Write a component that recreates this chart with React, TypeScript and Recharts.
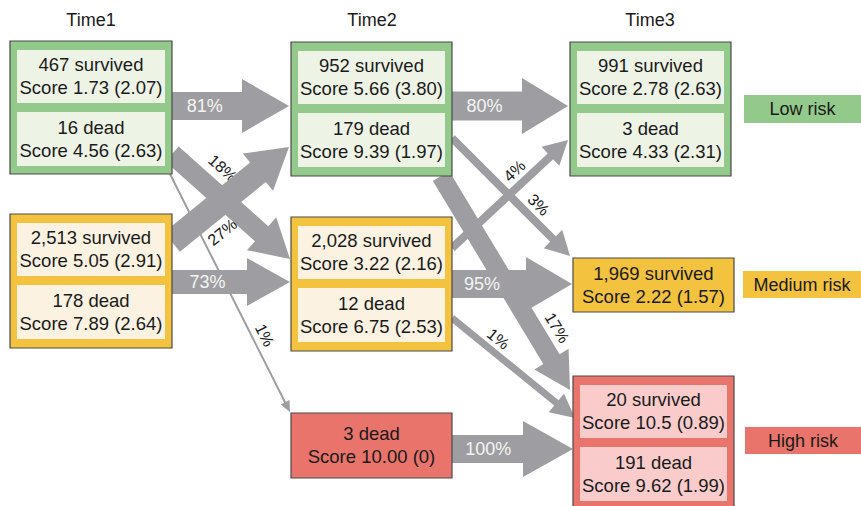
import React from 'react';
import { ScatterChart, Scatter, XAxis, YAxis, ReferenceArea, ReferenceLine } from 'recharts';

const W = 861;
const H = 506;
const FONT = '"Liberation Sans", Arial, sans-serif';

// values
const timeLabels = ['Time1', 'Time2', 'Time3'];
const riskLabels = ['Low risk', 'Medium risk', 'High risk'];

const time1Low = [
  { n: 467, status: 'survived', score: '1.73', sd: '2.07' },
  { n: 16, status: 'dead', score: '4.56', sd: '2.63' },
];
const time1Medium = [
  { n: 2513, status: 'survived', score: '5.05', sd: '2.91' },
  { n: 178, status: 'dead', score: '7.89', sd: '2.64' },
];
const time2Low = [
  { n: 952, status: 'survived', score: '5.66', sd: '3.80' },
  { n: 179, status: 'dead', score: '9.39', sd: '1.97' },
];
const time2Medium = [
  { n: 2028, status: 'survived', score: '3.22', sd: '2.16' },
  { n: 12, status: 'dead', score: '6.75', sd: '2.53' },
];
const time2High = [{ n: 3, status: 'dead', score: '10.00', sd: '0' }];
const time3Low = [
  { n: 991, status: 'survived', score: '2.78', sd: '2.63' },
  { n: 3, status: 'dead', score: '4.33', sd: '2.31' },
];
const time3Medium = [{ n: 1969, status: 'survived', score: '2.22', sd: '1.57' }];
const time3High = [
  { n: 20, status: 'survived', score: '10.5', sd: '0.89' },
  { n: 191, status: 'dead', score: '9.62', sd: '1.99' },
];

const flowSources = ['t1Low', 't1Low', 't1Low', 't1Medium', 't1Medium', 't2Low', 't2Low', 't2Low', 't2Medium', 't2Medium', 't2Medium', 't2High'];
const flowTargets = ['t2Low', 't2Medium', 't2High', 't2Low', 't2Medium', 't3Low', 't3Medium', 't3High', 't3Low', 't3Medium', 't3High', 't3High'];
const flowPercents = [81, 18, 1, 27, 73, 80, 3, 17, 4, 95, 1, 100];

const groups = [
  { key: 't1Low', time: 0, risk: 0, cells: time1Low },
  { key: 't1Medium', time: 0, risk: 1, cells: time1Medium },
  { key: 't2Low', time: 1, risk: 0, cells: time2Low },
  { key: 't2Medium', time: 1, risk: 1, cells: time2Medium },
  { key: 't2High', time: 1, risk: 2, cells: time2High },
  { key: 't3Low', time: 2, risk: 0, cells: time3Low },
  { key: 't3Medium', time: 2, risk: 1, cells: time3Medium },
  { key: 't3High', time: 2, risk: 2, cells: time3High },
];

// layout (diagram coordinates, 1 unit = 1 px)
const groupBoxes: Record<string, [number, number, number, number]> = {
  t1Low: [10, 172, 41, 174],
  t1Medium: [10, 172, 214, 348],
  t2Low: [291, 452, 42, 176],
  t2Medium: [291, 452, 217, 351],
  t2High: [291, 452, 413, 478],
  t3Low: [570, 731, 42, 176],
  t3Medium: [573, 734, 258, 312],
  t3High: [573, 734, 376, 514],
};
const titleX = [91, 372, 650];
const legendBoxes: [number, number, number, number][] = [
  [744, 861, 95, 123],
  [743, 861, 271, 298],
  [745, 861, 427, 454],
];
// x1, y1, x2, y2, shaft width, head half width, head length, label t, label offset, label inside
const arrowLayout = [
  [172, 106, 289, 106, 28, 27, 47, 0.28, 0, 1],
  [172, 154, 290, 259, 20, 22, 38, 0.3, -23, 0],
  [170, 174, 290, 412, 2, 5, 11, 0.7, -12, 0],
  [172, 242, 289, 147, 25, 24, 40, 0.3, 24, 0],
  [172, 282, 290, 282, 24, 24, 43, 0.3, 0, 1],
  [452, 106, 568, 106, 29, 28, 46, 0.28, 0, 1],
  [452, 138, 570, 256, 8, 13, 24, 0.65, -14, 0],
  [441, 176, 570, 390, 19, 20, 36, 0.76, -21, 0],
  [452, 248, 568, 140, 8, 13, 24, 0.62, -14, 0],
  [452, 284, 572, 284, 28, 27, 46, 0.25, 0, 1],
  [452, 318, 575, 418, 7, 12, 24, 0.31, -13, 0],
  [452, 449, 573, 449, 28, 28, 50, 0.3, 0, 1],
];

const riskOuter = ['#93c98a', '#f3c23e', '#e9746b'];
const riskInner = ['#edf3e5', '#fcf2e2', '#f9cccb'];
const ARROW = '#9e9ea2';

const cellLines = (c: { n: number; status: string; score: string; sd: string }) => [
  `${c.n.toLocaleString('en-US')} ${c.status}`,
  `Score ${c.score} (${c.sd})`,
];

const textLabel = (lines: string[], size: number, gap: number) => (props: any) => {
  const vb = props.viewBox;
  const cx = vb.x + vb.width / 2;
  const cy = vb.y + vb.height / 2;
  return (
    <text textAnchor="middle" fontSize={size} fill="#1a1a1a" fontFamily={FONT}>
      {lines.map((l, i) => (
        <tspan key={i} x={cx} y={cy + (i - (lines.length - 1) / 2) * gap} dy="0.35em">
          {l}
        </tspan>
      ))}
    </text>
  );
};

const arrowShape = (i: number) => (p: any) => {
  const [, , , , w, hh, hl, t, off, inside] = arrowLayout[i];
  const { x1, y1, x2, y2 } = p;
  const dx = x2 - x1;
  const dy = y2 - y1;
  const len = Math.hypot(dx, dy);
  const ux = dx / len;
  const uy = dy / len;
  const nx = -uy;
  const ny = ux;
  const bx = x2 - ux * hl;
  const by = y2 - uy * hl;
  const pts = [
    [x1 + (nx * w) / 2, y1 + (ny * w) / 2],
    [bx + (nx * w) / 2, by + (ny * w) / 2],
    [bx + nx * hh, by + ny * hh],
    [x2, y2],
    [bx - nx * hh, by - ny * hh],
    [bx - (nx * w) / 2, by - (ny * w) / 2],
    [x1 - (nx * w) / 2, y1 - (ny * w) / 2],
  ];
  const lx = x1 + dx * t + nx * off;
  const ly = y1 + dy * t + ny * off;
  const angle = (Math.atan2(dy, dx) * 180) / Math.PI;
  return (
    <g>
      <polygon points={pts.map((q) => q.join(',')).join(' ')} fill={ARROW} />
      <text
        x={lx}
        y={ly}
        dy="0.35em"
        textAnchor="middle"
        fontSize={inside ? 18 : 16}
        fill={inside ? '#f4f4f4' : '#1a1a1a'}
        fontFamily={FONT}
        transform={`rotate(${angle} ${lx} ${ly})`}
      >
        {flowPercents[i]}%
      </text>
    </g>
  );
};

const titlePoints = timeLabels.map((label, i) => ({ x: titleX[i], y: 20, label }));

const TitleShape = (p: any) => (
  <text x={p.cx} y={p.cy} dy="0.35em" textAnchor="middle" fontSize={18} fill="#1a1a1a" fontFamily={FONT}>
    {p.payload.label}
  </text>
);

export default function App() {
  return (
    <div style={{ position: 'absolute', left: 0, top: 0, width: W, height: H, background: '#fff' }}>
      <ScatterChart width={W} height={H} margin={{ top: 0, right: 0, bottom: 0, left: 0 }}>
        <XAxis type="number" dataKey="x" domain={[0, W]} ticks={[0, W]} allowDataOverflow hide />
        <YAxis type="number" dataKey="y" domain={[0, H]} ticks={[0, H]} allowDataOverflow reversed hide />

        {flowPercents.map((pct, i) => {
          const a = arrowLayout[i];
          return (
            <ReferenceLine
              key={`flow-${flowSources[i]}-${flowTargets[i]}-${pct}`}
              segment={[{ x: a[0], y: a[1] }, { x: a[2], y: a[3] }]}
              ifOverflow="visible"
              shape={arrowShape(i)}
              zIndex={50}
            />
          );
        })}

        {groups.map((g) => {
          const [x1, x2, y1, y2] = groupBoxes[g.key];
          const single = g.cells.length === 1;
          return (
            <ReferenceArea
              key={g.key}
              x1={x1}
              x2={x2}
              y1={y1}
              y2={y2}
              fill={riskOuter[g.risk]}
              fillOpacity={1}
              stroke="#4a4a4a"
              strokeWidth={1.2}
              ifOverflow="visible"
              zIndex={100}
              label={single ? textLabel(cellLines(g.cells[0]), 18.5, 23) : undefined}
            />
          );
        })}

        {groups
          .filter((g) => g.cells.length > 1)
          .flatMap((g) => {
            const [x1, x2, y1] = groupBoxes[g.key];
            return g.cells.map((c, j) => (
              <ReferenceArea
                key={`${g.key}-${j}`}
                x1={x1 + 7}
                x2={x2 - 7}
                y1={y1 + (j === 0 ? 9 : 71)}
                y2={y1 + (j === 0 ? 62 : 125)}
                fill={riskInner[g.risk]}
                fillOpacity={1}
                stroke="none"
                ifOverflow="visible"
                zIndex={110}
                label={textLabel(cellLines(c), 18.5, 23)}
              />
            ));
          })}

        {riskLabels.map((r, i) => {
          const [x1, x2, y1, y2] = legendBoxes[i];
          return (
            <ReferenceArea
              key={r}
              x1={x1}
              x2={x2}
              y1={y1}
              y2={y2}
              fill={riskOuter[i]}
              fillOpacity={1}
              stroke="none"
              ifOverflow="visible"
              zIndex={100}
              label={textLabel([r], 18, 0)}
            />
          );
        })}

        <Scatter data={titlePoints} shape={TitleShape} isAnimationActive={false} />
      </ScatterChart>
    </div>
  );
}
